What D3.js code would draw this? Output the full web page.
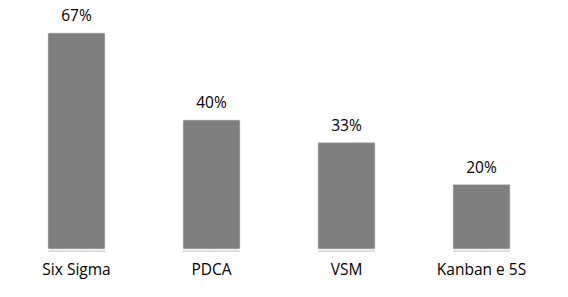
<!doctype html>
<html>
<head>
<meta charset="utf-8">
<script src="https://d3js.org/d3.v7.min.js"></script>
<style>
  body { margin: 0; background: #fff; }
  text { font-family: "Open Sans", sans-serif; font-size: 15.5px; fill: #000; }
</style>
</head>
<body>
<script>
var categories = ["Six Sigma", "PDCA", "VSM", "Kanban e 5S"];
var values = [67, 40, 33, 20];
var valueLabels = ["67%", "40%", "33%", "20%"];

var width = 568, height = 297;
var baseY = 249;

var svg = d3.select("body").append("svg")
    .attr("width", width)
    .attr("height", height);

var x = d3.scaleBand()
    .domain(categories)
    .range([9, 549])
    .paddingInner(0.578)
    .paddingOuter(0.289);

var y = d3.scaleLinear()
    .domain([0, 67])
    .range([baseY, 33]);

var data = categories.map(function(c, i) {
    return { cat: c, val: values[i], label: valueLabels[i] };
});

var g = svg.selectAll(".bar")
    .data(data)
    .enter()
    .append("g")
    .attr("class", "bar");

// thin light edge below each bar
g.append("rect")
    .attr("x", function(d) { return x(d.cat); })
    .attr("y", baseY + 1.5)
    .attr("width", x.bandwidth())
    .attr("height", 1.2)
    .attr("fill", "#c8c8c8");

g.append("rect")
    .attr("x", function(d) { return x(d.cat); })
    .attr("y", function(d) { return y(d.val); })
    .attr("width", x.bandwidth())
    .attr("height", function(d) { return baseY - y(d.val); })
    .attr("rx", 1)
    .attr("fill", "#7f7f7f")
    .attr("stroke", "#d4d4d4")
    .attr("stroke-width", 0.6);

g.append("text")
    .attr("x", function(d) { return x(d.cat) + x.bandwidth() / 2; })
    .attr("y", function(d) { return y(d.val) - 12; })
    .attr("text-anchor", "middle")
    .text(function(d) { return d.label; });

g.append("text")
    .attr("x", function(d) { return x(d.cat) + x.bandwidth() / 2; })
    .attr("y", 275)
    .attr("text-anchor", "middle")
    .text(function(d) { return d.cat; });
</script>
</body>
</html>
